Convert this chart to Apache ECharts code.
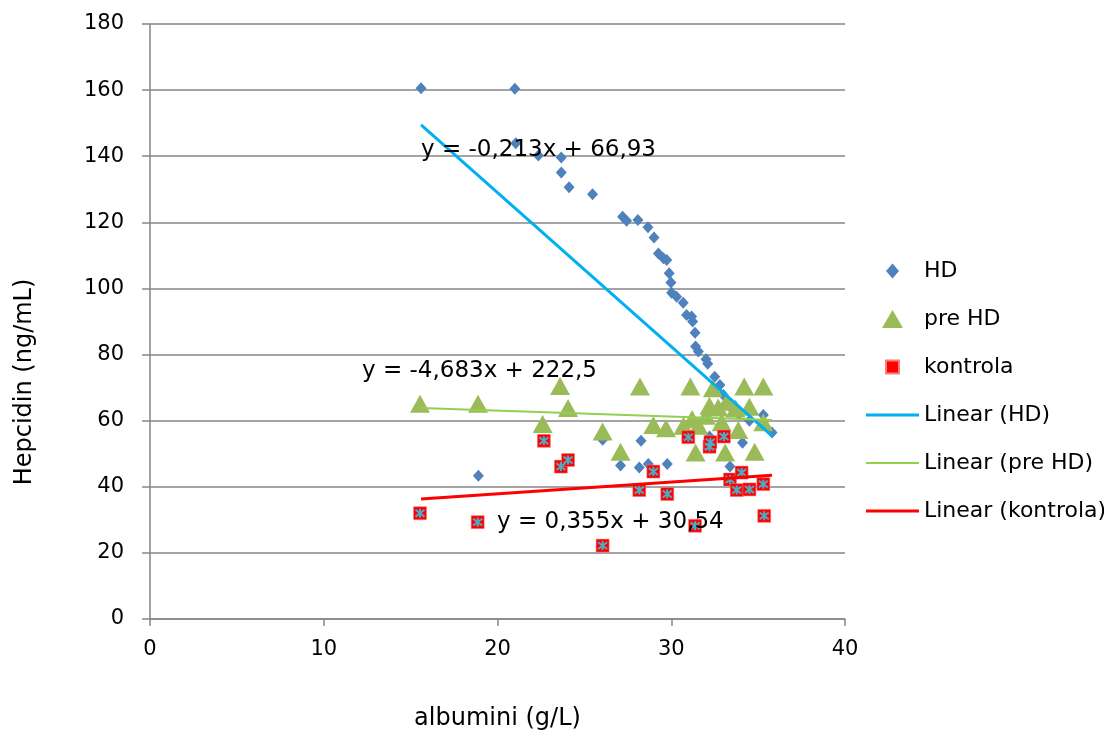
<!DOCTYPE html>
<html>
<head>
<meta charset="utf-8">
<script src="https://cdn.jsdelivr.net/npm/echarts@6/dist/echarts.min.js"></script>
<style>html,body{margin:0;padding:0;background:#fff}#c{width:1104px;height:731px}</style>
</head>
<body>
<div id="c"></div>
<script>
const xTicks = { min: 0, max: 40, interval: 10 };
const yTicks = { min: 0, max: 180, interval: 20 };

const hdPoints = [
  [15.6,160.6],[21.0,160.4],[21.05,143.9],[22.35,140.2],[23.67,139.6],[23.67,135.1],
  [24.12,130.6],[25.47,128.5],[27.2,121.7],[27.43,120.5],[28.08,120.7],[28.66,118.5],
  [29.01,115.4],[29.26,110.6],[29.55,109.1],[29.74,108.6],[29.88,104.6],[29.98,101.8],
  [30.02,98.7],[30.31,97.5],[30.69,95.7],[30.88,92.0],[31.17,91.5],[31.23,90.0],
  [31.37,86.6],[31.4,82.4],[31.56,80.9],[32.0,78.6],[32.1,77.2],[32.5,73.3],
  [32.8,70.8],[33.0,67.8],[33.48,63.7],[35.3,61.7],[35.8,56.4],[18.9,43.3],
  [26.05,54.2],[27.08,46.4],[28.16,45.8],[28.26,53.9],[28.68,46.9],[29.77,46.9],
  [33.38,46.1],[34.1,53.3],[32.2,55.2],[31.0,55.0],[34.5,60.0],[33.9,62.0]
];
const preHdPoints = [
  [15.54,65.1],[18.88,65.1],[22.6,59.0],[23.6,70.5],[24.06,63.8],[26.05,56.7],
  [27.08,50.6],[28.2,70.3],[28.97,58.7],[29.7,57.7],[30.7,58.5],[31.1,70.3],
  [31.56,58.5],[31.4,50.4],[32.2,64.5],[32.4,69.8],[32.7,64.0],[33.1,50.4],
  [33.2,65.7],[33.7,63.7],[33.86,57.2],[34.2,70.3],[34.5,64.2],[34.8,50.6],
  [35.3,70.3],[35.3,59.5],[31.2,60.5],[32.0,61.5],[32.9,59.5]
];
const kontrolaPoints = [
  [15.54,32.0],[18.86,29.3],[22.67,53.9],[23.65,46.1],[24.06,48.1],[26.05,22.2],
  [28.16,39.0],[28.97,44.6],[29.77,37.8],[30.98,55.0],[31.37,28.2],[32.2,52.1],
  [32.25,53.5],[33.03,55.2],[33.38,42.2],[33.77,39.0],[34.05,44.3],[34.5,39.2],
  [35.3,40.8],[35.35,31.2]
];
const trendHd = [[15.6,149.5],[35.8,55.4]];
const trendPreHd = [[15.6,63.8],[35.8,60.2]];
const trendKontrola = [[15.6,36.3],[35.8,43.5]];

const seriesNames = ['HD','pre HD','kontrola','Linear (HD)','Linear (pre HD)','Linear (kontrola)'];
const equations = ['y = -0,213x + 66,93','y = -4,683x + 222,5','y = 0,355x + 30,54'];
const axisTitles = { x: 'albumini (g/L)', y: 'Hepcidin (ng/mL)' };

const FONT = "'DejaVu Sans', sans-serif";
const asterisk = 'path://M5,0 L5,10 M1.2,1.2 L8.8,8.8 M8.8,1.2 L1.2,8.8';
// legend icons drawn in a 53x18 box (corner moveTo points fix the box)
const BOX = 'M0,0 M53,18 ';
const iconDiamond = 'path://' + BOX + 'M26.5,1.5 L33,9 L26.5,16.5 L20,9 Z';
const iconTriangle = 'path://' + BOX + 'M26.5,0 L37,18 L16,18 Z';
const iconSquare = 'path://' + BOX + 'M20,2.5 L33,2.5 L33,15.5 L20,15.5 Z';
const iconLine3 = 'path://' + BOX + 'M0,7.5 L53,7.5 L53,10.5 L0,10.5 Z';
const iconLine2 = 'path://' + BOX + 'M0,8 L53,8 L53,10 L0,10 Z';

const starStyle = { stroke: '#4BACC6', lineWidth: 1.8 };

const chart = echarts.init(document.getElementById('c'), null, {renderer:'canvas'});
chart.setOption({
  animation: false,
  backgroundColor: '#fff',
  textStyle: { fontFamily: FONT },
  grid: { left: 150, right: 259, top: 24, bottom: 112, containLabel: false, outerBoundsMode: 'none' },
  xAxis: {
    type: 'value', min: xTicks.min, max: xTicks.max, interval: xTicks.interval,
    name: axisTitles.x, nameLocation: 'middle', nameGap: 88,
    nameTextStyle: { fontSize: 24, color: '#000', fontFamily: FONT },
    axisLine: { show: true, onZero: false, lineStyle: { color: '#868686', width: 1.5 } },
    axisTick: { show: true, length: 7, lineStyle: { color: '#868686', width: 1.5 } },
    axisLabel: { fontSize: 21, color: '#000', margin: 20, fontFamily: FONT },
    splitLine: { show: false }
  },
  yAxis: {
    type: 'value', min: yTicks.min, max: yTicks.max, interval: yTicks.interval,
    axisLine: { show: true, lineStyle: { color: '#868686', width: 1.5 } },
    axisTick: { show: true, length: 8, lineStyle: { color: '#868686', width: 1.5 } },
    axisLabel: { fontSize: 21, color: '#000', margin: 26, fontFamily: FONT },
    splitLine: { show: true, lineStyle: { color: '#868686', width: 1.5 } }
  },
  legend: {
    orient: 'vertical', left: 860, top: 255, itemWidth: 53, itemHeight: 18, itemGap: 26,
    symbolKeepAspect: true,
    textStyle: { fontSize: 22, color: '#000', fontFamily: FONT },
    data: [
      { name: seriesNames[0], icon: iconDiamond, itemStyle: { color: '#4F81BD' } },
      { name: seriesNames[1], icon: iconTriangle, itemStyle: { color: '#9BBB59' } },
      { name: seriesNames[2], icon: iconSquare, itemStyle: { color: '#FF0000' } },
      { name: seriesNames[3], icon: iconLine3, itemStyle: { color: '#00B0F0' } },
      { name: seriesNames[4], icon: iconLine2, itemStyle: { color: '#92D050' } },
      { name: seriesNames[5], icon: iconLine3, itemStyle: { color: '#FF0000' } }
    ]
  },
  series: [
    { name: seriesNames[0], type: 'scatter', data: hdPoints, symbol: 'diamond', symbolSize: [11,12],
      itemStyle: { color: '#4F81BD', opacity: 1 }, z: 2 },
    { name: seriesNames[1], type: 'scatter', data: preHdPoints, symbol: 'triangle', symbolSize: [20,18],
      itemStyle: { color: '#9BBB59', opacity: 1 }, z: 3 },
    { name: seriesNames[2], type: 'scatter', data: kontrolaPoints, symbol: 'rect', symbolSize: 13,
      itemStyle: { color: '#FF0000', opacity: 1, borderColor: '#F08080', borderWidth: 0.5 }, z: 4 },
    { name: 'kontrola-mark', type: 'scatter', data: kontrolaPoints, symbol: asterisk, symbolSize: 9,
      itemStyle: { color: 'rgba(0,0,0,0)', borderColor: '#4BACC6', borderWidth: 2, opacity: 1 },
      z: 5, silent: true },
    { name: seriesNames[3], type: 'line', data: trendHd, symbol: 'none',
      lineStyle: { color: '#00B0F0', width: 3 }, itemStyle: { color: '#00B0F0' }, z: 6 },
    { name: seriesNames[4], type: 'line', data: trendPreHd, symbol: 'none',
      lineStyle: { color: '#92D050', width: 2 }, itemStyle: { color: '#92D050' }, z: 6 },
    { name: seriesNames[5], type: 'line', data: trendKontrola, symbol: 'none',
      lineStyle: { color: '#FF0000', width: 3 }, itemStyle: { color: '#FF0000' }, z: 6 }
  ],
  graphic: [
    { type: 'text', x: 421, y: 150, z: 100,
      style: { text: equations[0], fontSize: 23, fill: '#000', fontFamily: FONT, textVerticalAlign: 'middle' } },
    { type: 'text', x: 362, y: 371, z: 100,
      style: { text: equations[1], fontSize: 23, fill: '#000', fontFamily: FONT, textVerticalAlign: 'middle' } },
    { type: 'text', x: 497, y: 522, z: 100,
      style: { text: equations[2], fontSize: 23, fill: '#000', fontFamily: FONT, textVerticalAlign: 'middle' } },
    { type: 'text', x: 25, y: 382, rotation: Math.PI / 2, z: 100,
      style: { text: axisTitles.y, fontSize: 24, fill: '#000', fontFamily: FONT,
               textAlign: 'center', textVerticalAlign: 'middle' } },
    { type: 'group', x: 891.5, y: 365, z: 100, silent: true,
      children: [
        { type: 'line', shape: { x1: 0, y1: -4.5, x2: 0, y2: 4.5 }, style: starStyle },
        { type: 'line', shape: { x1: -3.6, y1: -3.6, x2: 3.6, y2: 3.6 }, style: starStyle },
        { type: 'line', shape: { x1: 3.6, y1: -3.6, x2: -3.6, y2: 3.6 }, style: starStyle }
      ] }
  ]
});
</script>
</body>
</html>
